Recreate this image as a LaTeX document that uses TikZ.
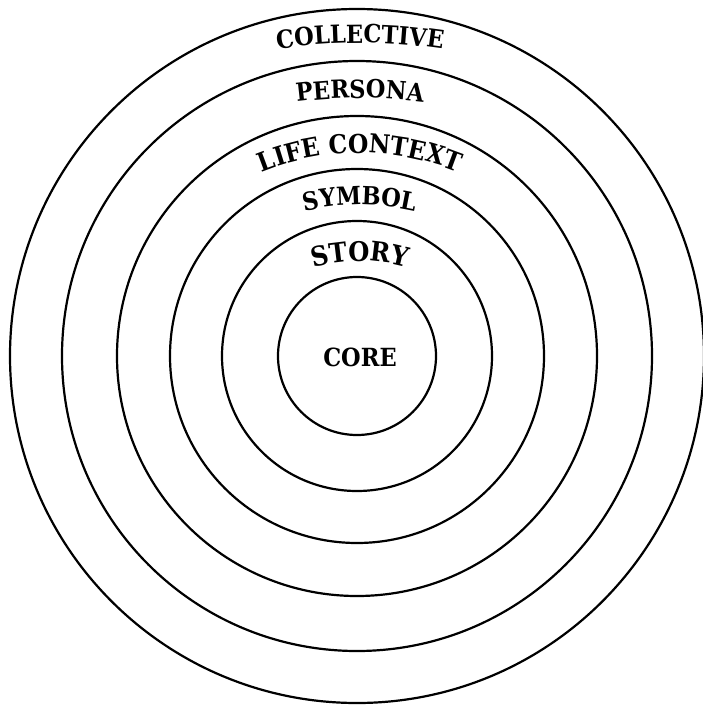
\documentclass[tikz,border=0pt]{standalone}
\usepackage{fontspec}
\usetikzlibrary{decorations.text}
\newfontfamily\labfont[FakeStretch=0.9]{DejaVu Serif}
\tikzset{
  ring/.style={circle, draw=black, line width=2.2pt, inner sep=0pt, outer sep=0pt},
  arclabel/.style={decorate, decoration={text along path, text align=center, text={#1}}},
}
\newcommand{\lf}[1]{\labfont\bfseries\fontsize{#1}{#1}\selectfont}
\begin{document}
\begin{tikzpicture}[x=1pt,y=1pt]
\useasboundingbox (0,0) rectangle (703,-707);
\fill[white] (0,0) rectangle (703,-707);
\coordinate (ctr) at (357,-356);
\node[ring, minimum size=694pt] (collective) at (ctr) {};
\node[ring, minimum size=590pt] (persona) at (ctr) {};
\node[ring, minimum size=480pt] (life) at (ctr) {};
\node[ring, minimum size=374pt] (symbol) at (ctr) {};
\node[ring, minimum size=270pt] (story) at (ctr) {};
\node[ring, minimum size=158pt] (core) at (ctr) {};
\node[font={\lf{25}}] (corelab) at (360,-357) {CORE};
% arched labels
\path[arclabel={|\lf{25}|COLLECTIVE}] (360,-603) ++(115:560) arc[start angle=115, end angle=65, radius=560];
\path[arclabel={|\lf{25}|PERSONA}] (360,-598) ++(115:500) arc[start angle=115, end angle=65, radius=500];
\path[arclabel={|\lf{26}|LIFE CONTEXT}] (360,-413) ++(140:260) arc[start angle=140, end angle=40, radius=260];
\path[arclabel={|\lf{25}|SYMBOL}] (360,-455) ++(130:250) arc[start angle=130, end angle=50, radius=250];
\path[arclabel={|\lf{27}|STORY}] (360,-431) ++(140:170) arc[start angle=140, end angle=40, radius=170];
\end{tikzpicture}
\end{document}
